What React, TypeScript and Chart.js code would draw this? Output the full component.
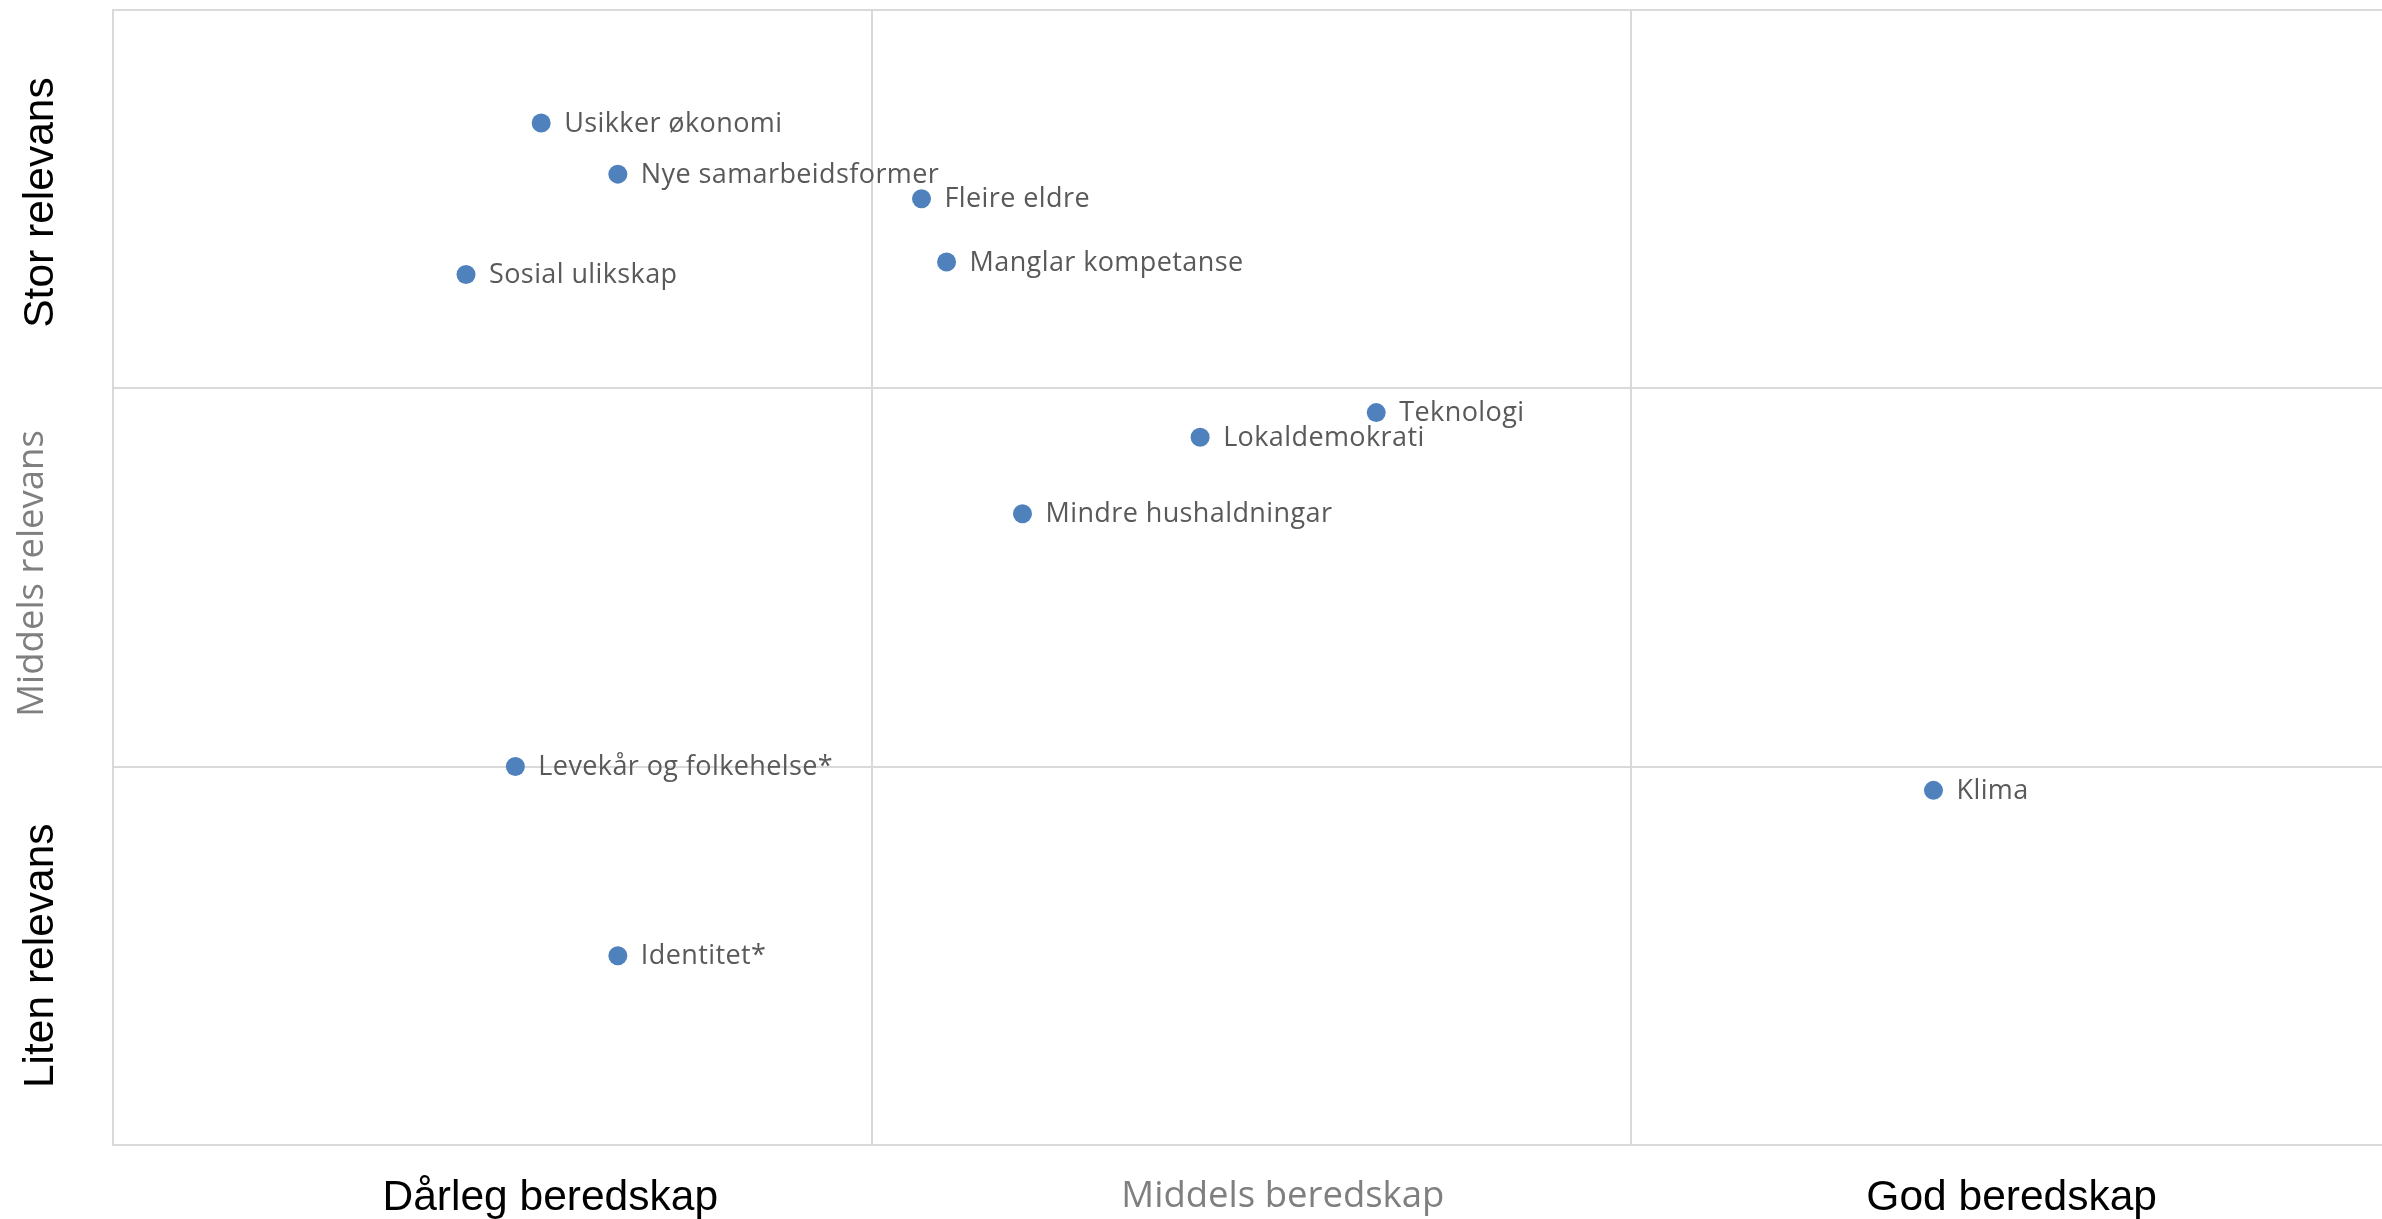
import React, { useEffect, useRef } from "react";
import { Chart, registerables } from "chart.js";

Chart.register(...registerables);

const pointLabels = [
  "Usikker økonomi",
  "Nye samarbeidsformer",
  "Fleire eldre",
  "Manglar kompetanse",
  "Sosial ulikskap",
  "Teknologi",
  "Lokaldemokrati",
  "Mindre hushaldningar",
  "Levekår og folkehelse*",
  "Identitet*",
  "Klima",
];
const xValues = [0.564, 0.665, 1.065, 1.098, 0.465, 1.664, 1.432, 1.198, 0.530, 0.665, 2.398];
const yValues = [2.70, 2.565, 2.50, 2.333, 2.30, 1.935, 1.87, 1.668, 1.0, 0.50, 0.937];

const xCategoryLabels = ["Dårleg beredskap", "Middels beredskap", "God beredskap"];
const xCategoryPositions = [0.576, 1.541, 2.501];
const yCategoryLabels = ["Stor relevans", "Middels relevans", "Liten relevans"];
const yCategoryPositions = [2.49, 1.51, 0.5];

const GRID = "#d9d9d9";

const labelsPlugin = {
  id: "quadLabels",
  afterDatasetsDraw(chart: any) {
    const ctx = chart.ctx;
    const meta = chart.getDatasetMeta(0);
    ctx.save();
    ctx.font = '27px "Open Sans"';
    try { (ctx as any).letterSpacing = "0.4px"; } catch (e) {}
    ctx.fillStyle = "#595959";
    ctx.textAlign = "left";
    ctx.textBaseline = "middle";
    meta.data.forEach((el: any, i: number) => {
      ctx.fillText(pointLabels[i], el.x + 23, el.y + 1);
    });
    ctx.restore();
  },
  afterDraw(chart: any) {
    const ctx = chart.ctx;
    const xs = chart.scales.x;
    const ys = chart.scales.y;
    const area = chart.chartArea;
    ctx.save();
    ctx.textAlign = "center";
    ctx.textBaseline = "alphabetic";
    xCategoryLabels.forEach((t, i) => {
      const middle = i === 1;
      ctx.font = middle ? '36.5px "Open Sans"' : '42.5px "Liberation Sans", Arial';
      ctx.fillStyle = middle ? "#7f7f7f" : "#000000";
      ctx.fillText(t, xs.getPixelForValue(xCategoryPositions[i]), area.bottom + (middle ? 62 : 65));
    });
    yCategoryLabels.forEach((t, i) => {
      const middle = i === 1;
      ctx.save();
      const px = middle ? 43 : 53;
      ctx.translate(px, ys.getPixelForValue(yCategoryPositions[i]));
      ctx.rotate(-Math.PI / 2);
      ctx.font = middle ? '36.5px "Open Sans"' : '42.5px "Liberation Sans", Arial';
      ctx.fillStyle = middle ? "#7f7f7f" : "#000000";
      ctx.fillText(t, 0, 0);
      ctx.restore();
    });
    ctx.restore();
  },
};

export default function App() {
  const ref = useRef<HTMLCanvasElement | null>(null);
  useEffect(() => {
    if (!ref.current) return;
    const chart = new Chart(ref.current, {
      type: "scatter",
      data: {
        datasets: [
          {
            data: xValues.map((x, i) => ({ x, y: yValues[i] })),
            backgroundColor: "#4f81bd",
            borderWidth: 0,
            pointRadius: 9.5,
            pointHoverRadius: 9.5,
          },
        ],
      },
      options: {
        animation: false,
        responsive: false,
        devicePixelRatio: 1,
        layout: { padding: { left: 113, top: 8, right: 4, bottom: 74 } },
        plugins: { legend: { display: false }, tooltip: { enabled: false } },
        scales: {
          x: {
            type: "linear",
            min: 0,
            max: 3,
            ticks: { display: false, stepSize: 1 },
            grid: { color: GRID, lineWidth: 2, drawTicks: false, tickLength: 0 },
            border: { display: true, color: GRID, width: 2 },
          },
          y: {
            type: "linear",
            min: 0,
            max: 3,
            ticks: { display: false, stepSize: 1 },
            grid: { color: GRID, lineWidth: 2, drawTicks: false, tickLength: 0 },
            border: { display: true, color: GRID, width: 2 },
          },
        },
      },
      plugins: [labelsPlugin],
    });
    return () => chart.destroy();
  }, []);
  return (
    <div
      style={{
        position: "fixed",
        left: 0,
        top: 0,
        width: 2382,
        height: 1219,
        overflow: "hidden",
        background: "#ffffff",
      }}
    >
      <canvas ref={ref} width={2400} height={1219} style={{ width: 2400, height: 1219, display: "block" }} />
    </div>
  );
}
